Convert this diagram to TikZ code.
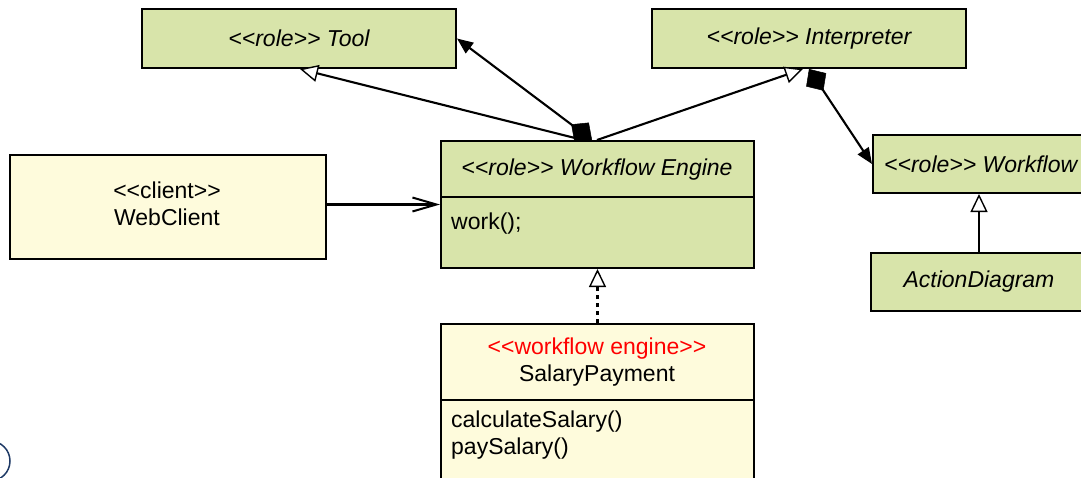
\documentclass[tikz,border=0pt]{standalone}
\usepackage{fontspec}
\setmainfont{Liberation Sans}[Ligatures=TeXOff]
\usetikzlibrary{arrows.meta}
\definecolor{umlgreen}{HTML}{D8E4AA}
\definecolor{umlyellow}{HTML}{FEFBDC}
\definecolor{umlred}{HTML}{FF0000}
\definecolor{logoblue}{HTML}{1F3A66}
\tikzset{
  box/.style={draw=black, line width=2pt, inner sep=0pt, anchor=north west},
  greenbox/.style={box, fill=umlgreen},
  yellowbox/.style={box, fill=umlyellow},
  conn/.style={line width=2.1pt, draw=black},
  gen/.style={conn, -{Triangle[open, length=18pt, width=17pt, fill=white, line width=1.4pt]}},
  compos/.style={conn, {Diamond[length=26pt, width=24pt, line width=0.5pt]}-{Triangle[length=16pt, width=13pt]}},
  depend/.style={conn, -{Straight Barb[length=24pt, width=14pt, line width=2pt]}},
  realize/.style={gen, dash pattern=on 4.5pt off 3.5pt},
  txt/.style={font=\fontsize{23}{27}\selectfont, inner sep=0pt},
}
\begin{document}
\begin{tikzpicture}[x=1pt, y=-1pt]
\useasboundingbox (0,0) rectangle (1081,477);
\clip (0,0) rectangle (1081,477);
% boxes
\node[greenbox, minimum width=314pt, minimum height=59pt] (tool) at (141,8) {};
\node[txt] (tooltxt) at (tool.center) {\itshape <<role>> Tool};
\node[greenbox, minimum width=314pt, minimum height=59pt] (interp) at (651,8) {};
\node[txt] (interptxt) at (interp.center) {\itshape <<role>> Interpreter};
\node[greenbox, minimum width=313pt, minimum height=127pt] (we) at (440,140) {};
\draw[line width=2pt] (440,197) -- (753,197);
\node[txt] (wetxt) at (597,170) {\itshape <<role>> Workflow Engine};
\node[txt, anchor=west] (wework) at (451,224) {work();};
\node[greenbox, minimum width=214pt, minimum height=58pt] (wf) at (872,134) {};
\node[txt, anchor=west] (wftxt) at (884,164) {\itshape <<role>> Workflow};
\node[greenbox, minimum width=216pt, minimum height=58pt] (action) at (870,252) {};
\node[txt] (actiontxt) at (action.center) {\itshape ActionDiagram};
\node[yellowbox, minimum width=316pt, minimum height=104pt] (web) at (9,154) {};
\node[txt] (webtxt1) at (167,190) {<<client>>};
\node[txt] (webtxt2) at (167,217) {WebClient};
\node[yellowbox, minimum width=313pt, minimum height=158pt] (salary) at (440,323) {};
\draw[line width=2pt] (440,400) -- (753,400);
\node[txt, text=umlred] (saltxt1) at (597,349) {<<workflow engine>>};
\node[txt] (saltxt2) at (597,376) {SalaryPayment};
\node[txt, anchor=west] (salm1) at (451,422) {calculateSalary()};
\node[txt, anchor=west] (salm2) at (451,449) {paySalary()};
% connectors
\draw[gen] ([xshift=143pt]we.north west) -- ([xshift=159pt]tool.south west);
\draw[compos] ([xshift=152pt]we.north west) -- (tool.east);
\draw[gen] ([xshift=157pt]we.north west) -- ([xshift=152pt]interp.south west);
\draw[compos] ([xshift=158pt]interp.south west) -- (wf.west);
\draw[gen] (action.north) -- (action.north |- wf.south);
\draw[depend] (web.east |- we.west) -- (we.west);
\draw[realize] (salary.north) -- (we.south);
% logo fragment
\draw[logoblue, line width=1.5pt] (-10,461) circle[radius=20pt];
\end{tikzpicture}
\end{document}
